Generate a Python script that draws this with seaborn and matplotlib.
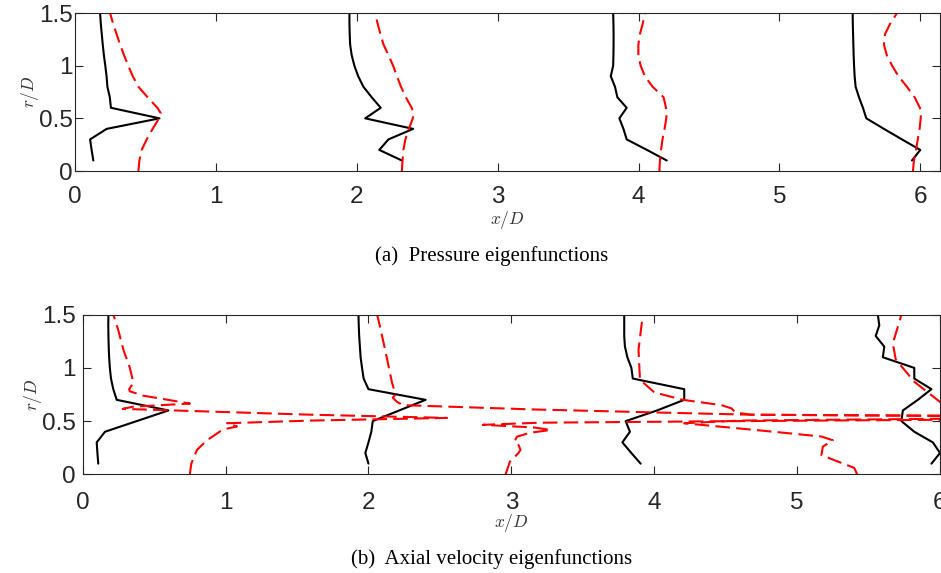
import matplotlib
matplotlib.use("Agg")
import matplotlib.pyplot as plt
import seaborn as sns

# radial positions of the black (solid) profiles
r_black = [0.1, 0.2, 0.3, 0.4, 0.5, 0.6, 0.7, 0.8, 0.9, 1.0, 1.1, 1.2, 1.3, 1.4, 1.5]

# (a) pressure eigenfunctions, solid black profiles at four stations
p_black_1 = [0.13, 0.118, 0.107, 0.225, 0.60, 0.255, 0.247, 0.23, 0.224, 0.215, 0.205, 0.197, 0.19, 0.183, 0.178]
p_black_2 = [2.32, 2.16, 2.225, 2.40, 2.06, 2.17, 2.106, 2.047, 2.01, 1.983, 1.964, 1.953, 1.95, 1.948, 1.948]
p_black_3 = [4.20, 4.06, 3.916, 3.893, 3.864, 3.916, 3.85, 3.833, 3.803, 3.82, 3.822, 3.823, 3.823, 3.822, 3.82]
p_black_4 = [5.941, 6.0, 5.87, 5.742, 5.617, 5.593, 5.565, 5.541, 5.534, 5.53, 5.527, 5.525, 5.523, 5.521, 5.52]

# (a) dashed red profiles (last point runs along the top edge)
r_red_p = [0.0, 0.1, 0.2, 0.3, 0.4, 0.5, 0.55, 0.6, 0.7, 0.8, 0.9, 1.0, 1.1, 1.2, 1.3, 1.4, 1.5, 1.5]
p_red_1 = [0.45, 0.457, 0.473, 0.509, 0.551, 0.596, 0.608, 0.585, 0.515, 0.45, 0.41, 0.378, 0.348, 0.32, 0.295, 0.27, 0.249, 0.17]
p_red_2 = [2.32, 2.325, 2.331, 2.345, 2.37, 2.398, 2.403, 2.39, 2.348, 2.314, 2.285, 2.258, 2.225, 2.19, 2.168, 2.148, 2.13, 1.99]
p_red_3 = [4.148, 4.152, 4.16, 4.17, 4.185, 4.197, 4.20, 4.195, 4.178, 4.10, 4.045, 4.015, 3.999, 3.999, 4.01, 4.03, 4.047, 3.88]
p_red_4 = [5.948, 5.955, 5.97, 5.982, 5.995, 6.003, 6.005, 5.997, 5.96, 5.905, 5.845, 5.80, 5.762, 5.742, 5.75, 5.787, 5.835, 5.66]

# (b) axial velocity eigenfunctions, solid black profiles
u_black_1 = [0.109, 0.103, 0.098, 0.156, 0.378, 0.60, 0.238, 0.214, 0.198, 0.19, 0.185, 0.182, 0.18, 0.179, 0.18]
u_black_2 = [2.0, 1.978, 2.0, 2.02, 2.03, 2.215, 2.40, 2.0, 1.966, 1.955, 1.945, 1.94, 1.935, 1.932, 1.93]
u_black_3 = [3.905, 3.84, 3.777, 3.83, 3.80, 4.02, 4.21, 4.21, 3.85, 3.84, 3.812, 3.795, 3.79, 3.79, 3.79]
u_black_4 = [5.94, 6.0, 5.95, 5.82, 5.73, 5.74, 5.845, 5.94, 5.82, 5.82, 5.60, 5.61, 5.55, 5.575, 5.565]

# (b) dashed red profiles, each with its own (x, r) path
u_red_1_x = [0.75, 0.76, 0.80, 0.87, 0.98, 1.08, 1.01, 1.60, 2.55, 1.60, 0.28, 0.35, 0.75, 0.42, 0.33, 0.325, 0.355, 0.33, 0.285, 0.25, 0.215]
u_red_1_r = [0.0, 0.1, 0.23, 0.32, 0.42, 0.45, 0.48, 0.505, 0.53, 0.56, 0.615, 0.635, 0.665, 0.74, 0.78, 0.80, 0.86, 1.0, 1.17, 1.35, 1.5]
u_red_2_x = [6.3, 4.68, 4.05, 3.14, 2.24, 2.20, 2.17, 2.19, 2.165, 2.12, 2.07, 2.06]
u_red_2_r = [0.545, 0.56, 0.58, 0.61, 0.65, 0.68, 0.72, 0.75, 0.86, 1.15, 1.45, 1.5]
u_red_3_x = [2.96, 2.99, 3.05, 3.064, 3.05, 3.02, 3.04, 3.13, 3.275, 3.16, 2.80, 3.2, 4.6, 6.3, 6.3, 4.68, 4.57, 4.54, 4.47, 4.20, 4.0, 3.90, 3.89, 3.92]
u_red_3_r = [0.0, 0.12, 0.2, 0.23, 0.276, 0.307, 0.354, 0.39, 0.417, 0.44, 0.465, 0.485, 0.50, 0.515, 0.55, 0.56, 0.58, 0.62, 0.65, 0.70, 0.77, 0.89, 1.17, 1.5]
u_red_4_x = [5.42, 5.40, 5.17, 5.18, 5.25, 5.17, 4.91, 4.68, 4.21, 4.6, 6.3, 6.3, 6.0, 5.82, 5.69, 5.67, 5.73]
u_red_4_r = [0.0, 0.06, 0.18, 0.26, 0.32, 0.355, 0.39, 0.42, 0.48, 0.505, 0.525, 0.62, 0.68, 0.87, 1.08, 1.23, 1.5]

x_ticks = [0, 1, 2, 3, 4, 5, 6]
y_ticks = [0, 0.5, 1, 1.5]
y_ticklabels = ["0", "0.5", "1", "1.5"]

sns.set_style("ticks")
plt.rcParams["font.family"] = ["Liberation Sans", "DejaVu Sans"]
plt.rcParams["mathtext.fontset"] = "cm"

ink = "#262626"
dash = (0, (7, 3))

fig = plt.figure(figsize=(9.41, 5.73), dpi=100)
ax_a = fig.add_axes([75 / 941, 1 - 171 / 573, 865 / 941, 158 / 573])
ax_b = fig.add_axes([82.7 / 941, 1 - 474.3 / 573, 857.3 / 941, 159.6 / 573])


def profile(ax, x, r, red):
    if red:
        sns.lineplot(x=x, y=r, ax=ax, sort=False, estimator=None,
                     color="#ff0000", lw=1.5, linestyle=dash)
    else:
        sns.lineplot(x=x, y=r, ax=ax, sort=False, estimator=None,
                     color="black", lw=1.5)


for xs in [p_black_1, p_black_2, p_black_3, p_black_4]:
    profile(ax_a, xs, r_black, False)
for xs in [p_red_1, p_red_2, p_red_3, p_red_4]:
    profile(ax_a, xs, r_red_p, True)

for xs in [u_black_1, u_black_2, u_black_3, u_black_4]:
    profile(ax_b, xs, r_black, False)
for xs, rs in [(u_red_1_x, u_red_1_r), (u_red_2_x, u_red_2_r),
               (u_red_3_x, u_red_3_r), (u_red_4_x, u_red_4_r)]:
    profile(ax_b, xs, rs, True)

ax_a.set_xlim(0, 6.14)
ax_b.set_xlim(0, 6.0)

for ax, ypad, xpad, ylab_x, xlab_y in [(ax_a, 1.5, 10.5, -0.052, -0.31),
                                       (ax_b, 5, 12.5, -0.058, -0.306)]:
    ax.set_ylim(0, 1.5)
    ax.set_xticks(x_ticks)
    ax.set_yticks(y_ticks)
    ax.set_yticklabels(y_ticklabels)
    ax.tick_params(direction="in", top=True, right=True, length=5.5,
                   width=0.8, color=ink, labelcolor=ink, labelsize=17.5)
    ax.tick_params(axis="y", pad=ypad)
    ax.tick_params(axis="x", pad=xpad)
    for s in ax.spines.values():
        s.set_visible(True)
        s.set_color(ink)
        s.set_linewidth(0.8)
    ax.set_xlabel(r"$x/D$", fontsize=12.5, color="#333333", va="center")
    ax.set_ylabel(r"$r/D$", fontsize=12.5, color="#333333", va="center")
    ax.xaxis.set_label_coords(0.5, xlab_y)
    ax.yaxis.set_label_coords(ylab_x, 0.5)

fig.text(492 / 941, 1 - 256 / 573, "(a)  Pressure eigenfunctions",
         family=["Liberation Serif", "DejaVu Serif"], fontsize=15,
         ha="center", va="center", color="black")
fig.text(492 / 941, 1 - 559 / 573, "(b)  Axial velocity eigenfunctions",
         family=["Liberation Serif", "DejaVu Serif"], fontsize=15,
         ha="center", va="center", color="black")

fig.savefig("out.png", dpi=100)
